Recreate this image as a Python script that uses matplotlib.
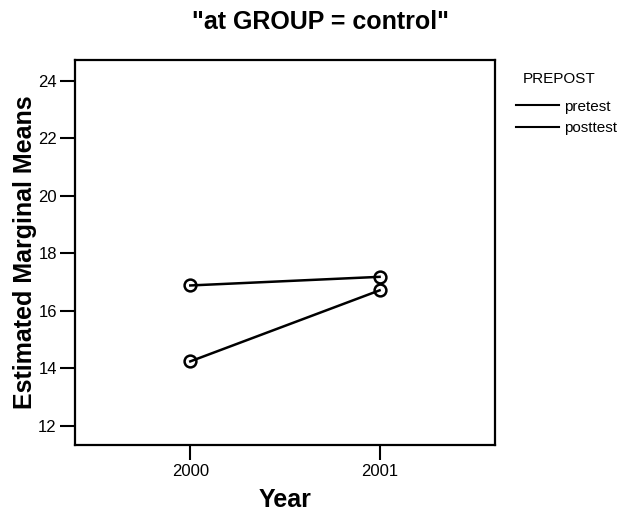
import matplotlib
matplotlib.use("Agg")
import matplotlib.pyplot as plt
from matplotlib.lines import Line2D

plt.rcParams['font.family'] = ['Liberation Sans', 'DejaVu Sans']

years = ["2000", "2001"]
pretest = [14.24, 16.71]
posttest = [16.88, 17.18]
yticks = [12, 14, 16, 18, 20, 22, 24]

fig = plt.figure(figsize=(6.29, 5.13), dpi=100)
ax = fig.add_axes([0.119, 0.133, 0.668, 0.750])

x = list(range(len(years)))
for vals, lab in [(pretest, "pretest"), (posttest, "posttest")]:
    ax.plot(x, vals, color='black', lw=1.8, marker='o', markersize=8.5,
            markerfacecolor='none', markeredgecolor='black', markeredgewidth=1.8,
            label=lab)

ax.set_xlim(-0.61, 1.61)
ax.set_ylim(11.34, 24.72)
ax.set_xticks(x)
ax.set_xticklabels(years, fontsize=12)
ax.set_yticks(yticks)
ax.set_yticklabels([str(v) for v in yticks], fontsize=12)
ax.tick_params(axis='x', direction='out', length=11, width=1.5, pad=3)
ax.tick_params(axis='y', direction='out', length=11, width=1.5, pad=2)
for s in ax.spines.values():
    s.set_linewidth(1.6)

ax.set_xlabel("Year", fontsize=18, fontweight='bold', labelpad=6)
ax.set_ylabel("Estimated Marginal Means", fontsize=18, fontweight='bold', labelpad=1)
fig.text(0.51, 0.957, '"at GROUP = control"', ha='center', va='center',
         fontsize=18, fontweight='bold')

handles = [Line2D([0], [0], color='black', lw=1.5) for _ in range(2)]
fig.text(0.831, 0.846, "PREPOST", fontsize=11, va='center', ha='left')
leg = fig.legend(handles, ["pretest", "posttest"], loc='upper left',
                 bbox_to_anchor=(0.820, 0.806), frameon=False, fontsize=11,
                 handlelength=2.8, handletextpad=0.35, labelspacing=0.5,
                 borderaxespad=0, borderpad=0)

fig.savefig("out.png", dpi=100)
